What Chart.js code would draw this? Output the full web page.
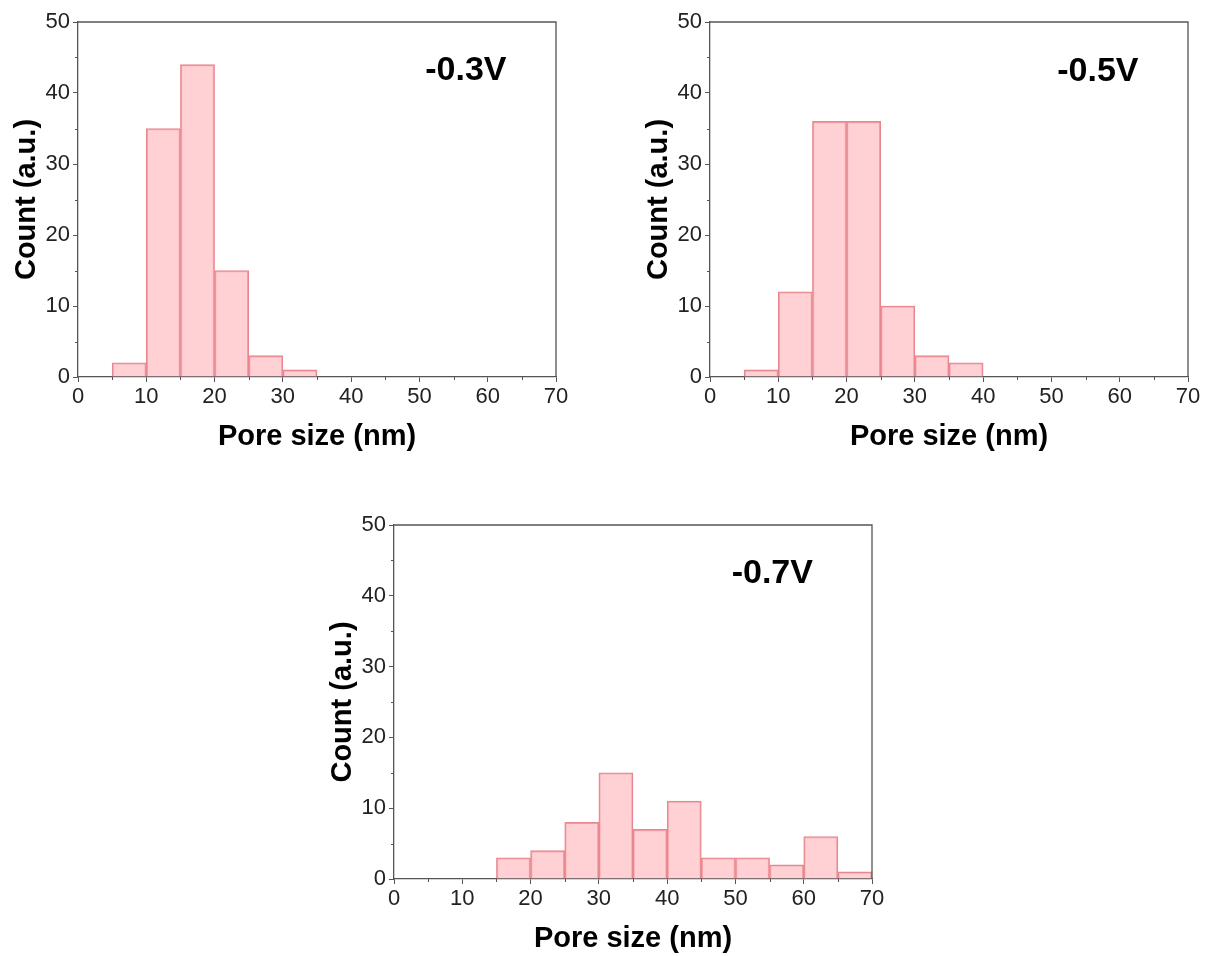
<!DOCTYPE html>
<html>
<head>
<meta charset="utf-8">
<script src="https://cdn.jsdelivr.net/npm/chart.js@4/dist/chart.umd.min.js"></script>
<style>
  html, body { margin: 0; padding: 0; background: #fff; overflow: hidden; }
  .panel { position: absolute; }
</style>
</head>
<body>
<div class="panel" id="p1"><canvas id="c1"></canvas></div>
<div class="panel" id="p2"><canvas id="c2"></canvas></div>
<div class="panel" id="p3"><canvas id="c3"></canvas></div>
<script>
// bin centres (nm), each bin 5 nm wide
const bins03 = [7.5, 12.5, 17.5, 22.5, 27.5, 32.5]
const counts03 = [2, 35, 44, 15, 3, 1]

const bins05 = [7.5, 12.5, 17.5, 22.5, 27.5, 32.5, 37.5]
const counts05 = [1, 12, 36, 36, 10, 3, 2]

const bins07 = [17.5, 22.5, 27.5, 32.5, 37.5, 42.5, 47.5, 52.5, 57.5, 62.5, 67.5]
const counts07 = [3, 4, 8, 15, 7, 11, 3, 3, 2, 6, 1]

const xTicks = [0, 10, 20, 30, 40, 50, 60, 70]
const yTicks = [0, 10, 20, 30, 40, 50]
const xMinor = [5, 15, 25, 35, 45, 55, 65]
const yMinor = [5, 15, 25, 35, 45]

const FONT = "'Liberation Sans', Arial, sans-serif"
const AXIS = '#555'
const Y_AXIS_W = 78
const X_AXIS_H = 93
const PAD_TOP = 22
const PAD_RIGHT = 30

// frame around the plot + short minor ticks + voltage tag
const framePlugin = {
  id: 'frame',
  afterDraw(chart, args, opts) {
    const { ctx, chartArea: a, scales: { x, y } } = chart
    ctx.save()
    ctx.strokeStyle = AXIS
    ctx.lineWidth = 1.3
    ctx.beginPath()
    ctx.moveTo(a.left, a.top)
    ctx.lineTo(a.right, a.top)
    ctx.lineTo(a.right, a.bottom)
    ctx.stroke()

    ctx.lineWidth = 1
    ctx.beginPath()
    xMinor.forEach(v => {
      const px = Math.round(x.getPixelForValue(v)) + 0.5
      ctx.moveTo(px, a.bottom)
      ctx.lineTo(px, a.bottom + 3)
    })
    yMinor.forEach(v => {
      const py = Math.round(y.getPixelForValue(v)) + 0.5
      ctx.moveTo(a.left, py)
      ctx.lineTo(a.left - 3, py)
    })
    ctx.stroke()

    ctx.fillStyle = '#000'
    ctx.font = 'bold 34px ' + FONT
    ctx.textAlign = 'center'
    ctx.textBaseline = 'middle'
    ctx.fillText(opts.text, x.getPixelForValue(opts.at[0]), y.getPixelForValue(opts.at[1]))
    ctx.restore()
  }
}

function makeHist(id, panelId, plot, bins, counts, tag, tagAt) {
  const panel = document.getElementById(panelId)
  const w = plot.right - plot.left + Y_AXIS_W + PAD_RIGHT
  const h = plot.bottom - plot.top + PAD_TOP + X_AXIS_H
  panel.style.left = (plot.left - Y_AXIS_W) + 'px'
  panel.style.top = (plot.top - PAD_TOP) + 'px'
  panel.style.width = w + 'px'
  panel.style.height = h + 'px'

  return new Chart(document.getElementById(id), {
    type: 'bar',
    data: {
      datasets: [{
        data: bins.map((b, i) => ({ x: b, y: counts[i] })),
        backgroundColor: 'rgba(255, 188, 194, 0.7)',
        borderColor: '#e8878f',
        borderWidth: 1.4,
        barPercentage: 1,
        categoryPercentage: 1
      }]
    },
    options: {
      responsive: true,
      maintainAspectRatio: false,
      animation: false,
      layout: { padding: { top: PAD_TOP, right: PAD_RIGHT, left: 0, bottom: 0 } },
      plugins: {
        legend: { display: false },
        tooltip: { enabled: false },
        frame: { text: tag, at: tagAt }
      },
      scales: {
        x: {
          type: 'linear',
          min: 0,
          max: 70,
          offset: false,
          afterBuildTicks: s => { s.ticks = xTicks.map(v => ({ value: v })) },
          afterFit: s => { s.height = X_AXIS_H },
          grid: { offset: false, drawOnChartArea: false, tickLength: 5, tickColor: AXIS, tickWidth: 1 },
          border: { color: AXIS, width: 1.3 },
          ticks: { color: '#222', padding: 2, maxRotation: 0, font: { family: FONT, size: 22 } },
          title: {
            display: true,
            text: 'Pore size (nm)',
            color: '#000',
            padding: { bottom: 16 },
            font: { family: FONT, size: 29, weight: 'bold' }
          }
        },
        y: {
          min: 0,
          max: 50,
          afterBuildTicks: s => { s.ticks = yTicks.map(v => ({ value: v })) },
          afterFit: s => { s.width = Y_AXIS_W },
          grid: { drawOnChartArea: false, tickLength: 5, tickColor: AXIS, tickWidth: 1 },
          border: { color: AXIS, width: 1.3 },
          ticks: { color: '#222', padding: 3, font: { family: FONT, size: 22 } },
          title: {
            display: true,
            text: 'Count (a.u.)',
            color: '#000',
            padding: { top: 10 },
            font: { family: FONT, size: 29, weight: 'bold' }
          }
        }
      }
    },
    plugins: [framePlugin]
  })
}

makeHist('c1', 'p1', { left: 78, top: 22, right: 556, bottom: 377 }, bins03, counts03, '-0.3V', [56.8, 43.2])
makeHist('c2', 'p2', { left: 710, top: 22, right: 1188, bottom: 377 }, bins05, counts05, '-0.5V', [56.8, 43.0])
makeHist('c3', 'p3', { left: 394, top: 525, right: 872, bottom: 879 }, bins07, counts07, '-0.7V', [55.4, 43.2])
</script>
</body>
</html>
